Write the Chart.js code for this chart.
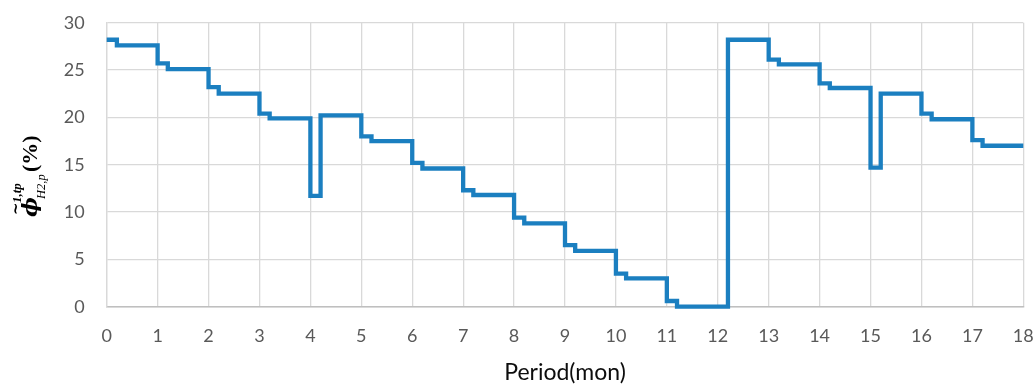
<!DOCTYPE html>
<html>
<head>
<meta charset="utf-8">
<script src="https://cdn.jsdelivr.net/npm/chart.js@4.4.1/dist/chart.umd.min.js"></script>
<style>
  html, body { margin: 0; padding: 0; background: #ffffff; }
  #wrap { width: 1034px; height: 386px; }
</style>
</head>
<body>
<div id="wrap"><canvas id="c" width="1034" height="386"></canvas></div>
<script>
// Start of each constant-value interval (months) and its value (%)
const periodStarts = [0, 0.2, 1, 1.2, 2, 2.2, 3, 3.2, 4, 4.2, 5, 5.2, 6, 6.2, 7, 7.2, 8, 8.2, 9, 9.2,
                      10, 10.2, 11, 11.2, 12, 12.2, 13, 13.2, 14, 14.2, 15, 15.2, 16, 16.2, 17, 17.2, 18];
const phiValues    = [28.2, 27.6, 25.7, 25.1, 23.2, 22.5, 20.4, 19.9, 11.7, 20.2, 18.0, 17.5, 15.2, 14.6, 12.3, 11.8, 9.4, 8.8, 6.5, 5.9,
                      3.5, 3.0, 0.6, 0.0, 0.0, 28.2, 26.1, 25.6, 23.6, 23.1, 14.7, 22.5, 20.4, 19.8, 17.6, 17.0, 17.0];
const xTickMin = 0, xTickMax = 18, xTickStep = 1;
const yTickMin = 0, yTickMax = 30, yTickStep = 5;
const xAxisTitle = 'Period(mon)';

const points = periodStarts.map((x, i) => ({ x: x, y: phiValues[i] }));

const yTitlePlugin = {
  id: 'yTitle',
  afterDraw(chart) {
    const ctx = chart.ctx;
    ctx.save();
    ctx.translate(37, 217);
    ctx.rotate(-Math.PI / 2);
    ctx.fillStyle = '#000000';
    ctx.textAlign = 'left';
    ctx.textBaseline = 'alphabetic';
    ctx.font = 'bold italic 21px "DejaVu Serif"';
    ctx.fillText('ϕ', 0, 0);
    ctx.font = 'bold 15px "DejaVu Serif"';
    ctx.fillText('~', 2, -17);
    ctx.font = 'bold italic 13px "Liberation Serif"';
    ctx.fillText('1,tp', 14, -16);
    ctx.font = 'italic 12.5px "Liberation Serif"';
    ctx.fillText('H2,p', 18, 8);
    ctx.font = 'bold 22px "Liberation Serif"';
    ctx.fillText('(%)', 45, 0);
    ctx.restore();
  }
};

new Chart(document.getElementById('c'), {
  type: 'line',
  data: {
    datasets: [{
      data: points,
      borderColor: '#1b7fc0',
      borderWidth: 4.3,
      stepped: 'before',
      pointRadius: 0,
      fill: false,
      clip: false,
      borderJoinStyle: 'miter',
      borderCapStyle: 'butt'
    }]
  },
  options: {
    responsive: false,
    devicePixelRatio: 1,
    animation: false,
    layout: { padding: { top: 22.7, right: 10.7, left: 0, bottom: 0 } },
    plugins: { legend: { display: false }, tooltip: { enabled: false } },
    scales: {
      x: {
        type: 'linear',
        min: xTickMin, max: xTickMax,
        ticks: { stepSize: xTickStep, color: '#595959', font: { family: 'Lato', size: 18 }, padding: 19, maxRotation: 0 },
        grid: { color: '#d9d9d9', lineWidth: 1.3, drawTicks: false },
        border: { color: '#bfbfbf', width: 1.5 },
        title: { display: true, text: xAxisTitle, color: '#0d0d0d', font: { family: 'Lato', size: 23 }, padding: { top: 0, bottom: 0 } },
        afterFit(scale) { scale.height = 79.3; scale.paddingLeft = 0; scale.paddingRight = 0; }
      },
      y: {
        min: yTickMin, max: yTickMax,
        ticks: { stepSize: yTickStep, color: '#595959', font: { family: 'Lato', size: 18 }, padding: 22 },
        grid: { color: '#d9d9d9', lineWidth: 1.3, drawTicks: false },
        border: { color: '#d9d9d9', width: 1.3 },
        afterFit(scale) { scale.width = 106.7; scale.paddingTop = 0; scale.paddingBottom = 0; }
      }
    }
  },
  plugins: [yTitlePlugin]
});
</script>
</body>
</html>
